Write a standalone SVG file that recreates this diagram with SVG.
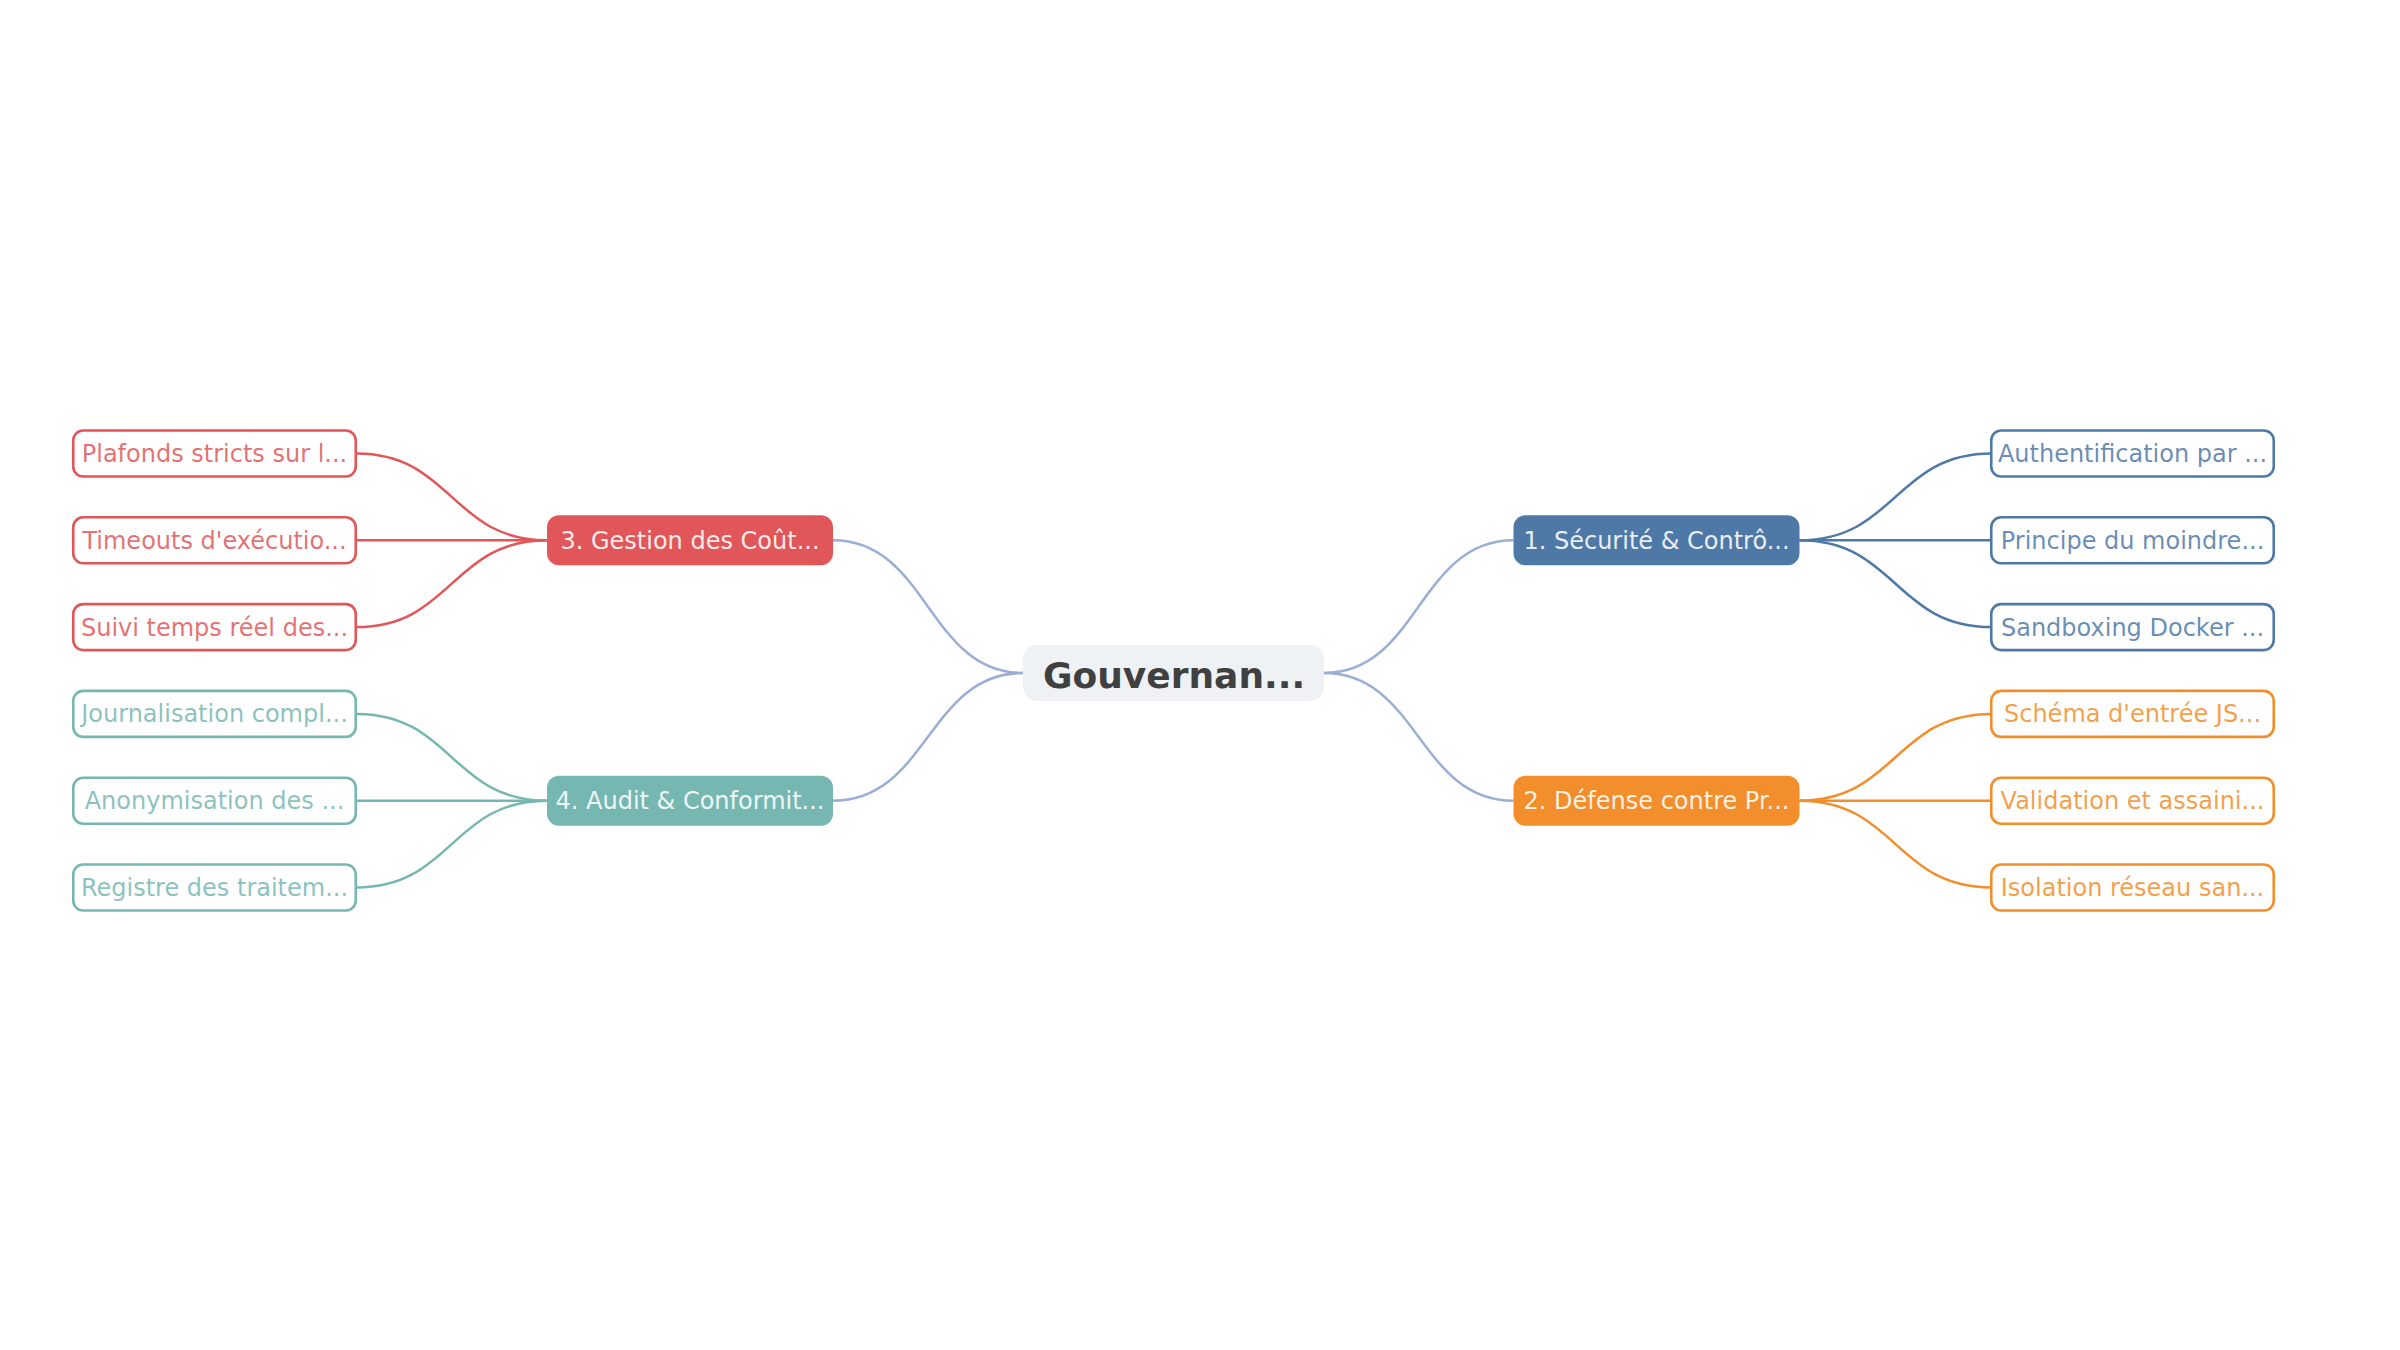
<svg xmlns="http://www.w3.org/2000/svg" width="2400" height="1350" viewBox="0 0 2400 1350">
<style>
text{font-family:"DejaVu Sans","Liberation Sans",sans-serif;text-anchor:middle}
.leaf{font-size:24px;fill-opacity:0.85}
.cat{font-size:24px;fill:#ffffff;fill-opacity:0.9}
.leafbox{fill:#ffffff;stroke-width:2.6}
.c{fill:none;stroke-width:2.5}
.root{fill:none;stroke:#9aaed6;stroke-width:2.5}
.red{stroke:#e15759}.redf{fill:#e15759}
.teal{stroke:#76b7b2}.tealf{fill:#76b7b2}
.blue{stroke:#4e79a7}.bluef{fill:#4e79a7}
.orange{stroke:#f28e2b}.orangef{fill:#f28e2b}
</style>
<rect x="0" y="0" width="2400" height="1350" fill="#ffffff"/>
<g id="connectors">
<path class="root" d="M1023,673 C928,673 928,540.3 833,540.3"/>
<path class="root" d="M1023,673 C928,673 928,800.7 833,800.7"/>
<path class="root" d="M1324,673 C1418.5,673 1418.5,540.3 1513.5,540.3"/>
<path class="root" d="M1324,673 C1418.5,673 1418.5,800.7 1513.5,800.7"/>
<path class="c red" d="M547,540.3 C451.75,540.3 451.75,453.5 356.5,453.5"/>
<path class="c red" d="M547,540.3 L356.5,540.3"/>
<path class="c red" d="M547,540.3 C451.75,540.3 451.75,627.1 356.5,627.1"/>
<path class="c teal" d="M547,800.7 C451.75,800.7 451.75,713.9 356.5,713.9"/>
<path class="c teal" d="M547,800.7 L356.5,800.7"/>
<path class="c teal" d="M547,800.7 C451.75,800.7 451.75,887.5 356.5,887.5"/>
<path class="c blue" d="M1799.5,540.3 C1895.5,540.3 1895.5,453.5 1991.5,453.5"/>
<path class="c blue" d="M1799.5,540.3 L1991.5,540.3"/>
<path class="c blue" d="M1799.5,540.3 C1895.5,540.3 1895.5,627.1 1991.5,627.1"/>
<path class="c orange" d="M1799.5,800.7 C1895.5,800.7 1895.5,713.9 1991.5,713.9"/>
<path class="c orange" d="M1799.5,800.7 L1991.5,800.7"/>
<path class="c orange" d="M1799.5,800.7 C1895.5,800.7 1895.5,887.5 1991.5,887.5"/>
</g>
<g id="root">
<rect x="1023" y="645" width="301" height="56" rx="14" fill="#eff2f4"/>
<text x="1174" y="687.5" style="font-size:36px;font-weight:bold;fill:#404040">Gouvernan...</text>
</g>
<g id="cat1">
<rect class="bluef" x="1513.5" y="515.3" width="286" height="50" rx="12"/>
<text class="cat" x="1656.5" y="548.6">1. Sécurité &amp; Contrô...</text>
</g>
<g id="cat2">
<rect class="orangef" x="1513.5" y="775.7" width="286" height="50" rx="12"/>
<text class="cat" x="1656.5" y="809">2. Défense contre Pr...</text>
</g>
<g id="cat3">
<rect class="redf" x="547" y="515.3" width="286" height="50" rx="12"/>
<text class="cat" x="690" y="548.6">3. Gestion des Coût...</text>
</g>
<g id="cat4">
<rect class="tealf" x="547" y="775.7" width="286" height="50" rx="12"/>
<text class="cat" x="690" y="809">4. Audit &amp; Conformit...</text>
</g>
<g id="leaf1a"><rect class="leafbox blue" x="1991.25" y="430.5" width="282.5" height="46" rx="10"/><text class="leaf bluef" x="2132.5" y="462">Authentification par ...</text></g>
<g id="leaf1b"><rect class="leafbox blue" x="1991.25" y="517.3" width="282.5" height="46" rx="10"/><text class="leaf bluef" x="2132.5" y="548.8">Principe du moindre...</text></g>
<g id="leaf1c"><rect class="leafbox blue" x="1991.25" y="604.1" width="282.5" height="46" rx="10"/><text class="leaf bluef" x="2132.5" y="635.6">Sandboxing Docker ...</text></g>
<g id="leaf2a"><rect class="leafbox orange" x="1991.25" y="690.9" width="282.5" height="46" rx="10"/><text class="leaf orangef" x="2132.5" y="722.4">Schéma d'entrée JS...</text></g>
<g id="leaf2b"><rect class="leafbox orange" x="1991.25" y="777.7" width="282.5" height="46" rx="10"/><text class="leaf orangef" x="2132.5" y="809.2">Validation et assaini...</text></g>
<g id="leaf2c"><rect class="leafbox orange" x="1991.25" y="864.5" width="282.5" height="46" rx="10"/><text class="leaf orangef" x="2132.5" y="896">Isolation réseau san...</text></g>
<g id="leaf3a"><rect class="leafbox red" x="73.25" y="430.5" width="282.5" height="46" rx="10"/><text class="leaf redf" x="214.5" y="462">Plafonds stricts sur l...</text></g>
<g id="leaf3b"><rect class="leafbox red" x="73.25" y="517.3" width="282.5" height="46" rx="10"/><text class="leaf redf" x="214.5" y="548.8">Timeouts d'exécutio...</text></g>
<g id="leaf3c"><rect class="leafbox red" x="73.25" y="604.1" width="282.5" height="46" rx="10"/><text class="leaf redf" x="214.5" y="635.6">Suivi temps réel des...</text></g>
<g id="leaf4a"><rect class="leafbox teal" x="73.25" y="690.9" width="282.5" height="46" rx="10"/><text class="leaf tealf" x="214.5" y="722.4">Journalisation compl...</text></g>
<g id="leaf4b"><rect class="leafbox teal" x="73.25" y="777.7" width="282.5" height="46" rx="10"/><text class="leaf tealf" x="214.5" y="809.2">Anonymisation des ...</text></g>
<g id="leaf4c"><rect class="leafbox teal" x="73.25" y="864.5" width="282.5" height="46" rx="10"/><text class="leaf tealf" x="214.5" y="896">Registre des traitem...</text></g>
</svg>
